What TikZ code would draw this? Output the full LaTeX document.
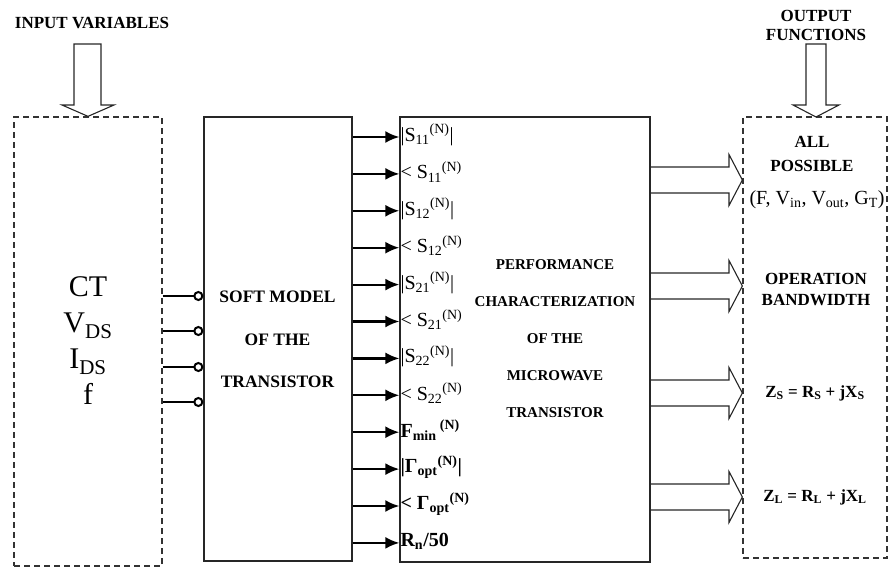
\documentclass[tikz,border=0pt]{standalone}
\usepackage{fontspec}
\setmainfont{Liberation Serif}
\usetikzlibrary{arrows.meta,positioning,calc}

\begin{document}
\begin{tikzpicture}[x=1pt,y=-1pt,
  solidbox/.style={draw=black!85,line width=1.3pt,inner sep=0pt},
  dashbox/.style={draw=black!80,line width=1.3pt,dash pattern=on 6pt off 4pt,inner sep=0pt},
  hollow/.style={draw=black!85,line width=1.1pt,line join=miter},
  pin/.style={line width=2pt,-{Circle[open,length=10pt,width=10pt,line width=2pt]}},
  feed/.style={line width=2.2pt,-{Latex[length=14pt,width=12pt]}},
  caps/.style={font=\bfseries\fontsize{17}{19}\selectfont,align=center}]
\useasboundingbox (0,0) rectangle (889,568);
% the four blocks
\node[dashbox,minimum width=148pt,minimum height=449pt] (inbox) at (88,341.5) {};
\node[solidbox,minimum width=148pt,minimum height=444pt] (soft) at (278,339) {};
\node[solidbox,minimum width=250pt,minimum height=445pt] (perf) at (525,339.5) {};
\node[dashbox,minimum width=144pt,minimum height=441pt] (outbox) at (815,337.5) {};
% titles and big hollow arrows
\node[caps] (intitle) at (92,23) {INPUT VARIABLES};
\node[caps] (outtitle) at (816,25) {OUTPUT\\FUNCTIONS};
\draw[hollow] (74,44) -- (101,44) -- (101,105) -- (114,105) -- (inbox.north) -- (62,105) -- (74,105) -- cycle;
\draw[hollow] (806,44) -- (826,44) -- (826,105) -- (839,105) -- (816,117) -- (793,105) -- (806,105) -- cycle;
% input variables
\node[align=center,font=\fontsize{30}{36}\selectfont] (vars) at (88,341)
  {CT\\V\textsubscript{DS}\\I\textsubscript{DS}\\f};
\foreach \y in {296,331,367,402}
  \draw[pin] (inbox.east |- 0,\y) -- (soft.west |- 0,\y);
\node[font=\bfseries\fontsize{17.5}{42.5}\selectfont,align=center] (softtxt) at (277.5,339.5)
  {SOFT MODEL\\OF THE\\TRANSISTOR};
% normalized parameters
\foreach \lab [count=\i from 0] in {%
  |S\textsubscript{11}\textsuperscript{(N)}|,
  < S\textsubscript{11}\textsuperscript{(N)},
  |S\textsubscript{12}\textsuperscript{(N)}|,
  < S\textsubscript{12}\textsuperscript{(N)},
  |S\textsubscript{21}\textsuperscript{(N)}|,
  < S\textsubscript{21}\textsuperscript{(N)},
  |S\textsubscript{22}\textsuperscript{(N)}|,
  < S\textsubscript{22}\textsuperscript{(N)},
  \textbf{F\textsubscript{min}\,\textsuperscript{(N)}},
  \textbf{|Γ\textsubscript{opt}\textsuperscript{(N)}|},
  \textbf{< Γ\textsubscript{opt}\textsuperscript{(N)}},
  \textbf{R\textsubscript{n}/50}} {
  \pgfmathsetmacro\y{137+36.9*\i}
  \draw[feed] (soft.east |- 0,\y) -- (perf.west |- 0,\y);
  \node[anchor=west,inner sep=1pt,font=\fontsize{20}{22}\selectfont] (par\i) at (perf.west |- 0,\y-2) {\lab};
}
\node[font=\bfseries\fontsize{15}{37}\selectfont,align=center] (perftxt) at (555,339)
  {PERFORMANCE\\CHARACTERIZATION\\OF THE\\MICROWAVE\\TRANSISTOR};
% output functions
\foreach \y in {180,286,393,497}
  \draw[hollow] (perf.east |- 0,\y-13) -- (729,\y-13) -- (729,\y-25.5) -- (outbox.west |- 0,\y)
    -- (729,\y+25.5) -- (729,\y+13) -- (perf.east |- 0,\y+13);
\node[font=\bfseries\fontsize{17}{24}\selectfont,align=center] (allposs) at (812,154) {ALL\\POSSIBLE};
\node[font=\fontsize{20}{22}\selectfont] (funcs) at (817,200)
  {(F, V\textsubscript{in}, V\textsubscript{out}, G\textsubscript{T})};
\node[font=\bfseries\fontsize{17}{21}\selectfont,align=center] (band) at (816,289) {OPERATION\\BANDWIDTH};
\node[font=\bfseries\fontsize{17}{19}\selectfont] (zs) at (815,393)
  {Z\textsubscript{S} = R\textsubscript{S} + jX\textsubscript{S}};
\node[font=\bfseries\fontsize{17}{19}\selectfont] (zl) at (815,497)
  {Z\textsubscript{L} = R\textsubscript{L} + jX\textsubscript{L}};
\end{tikzpicture}
\end{document}
